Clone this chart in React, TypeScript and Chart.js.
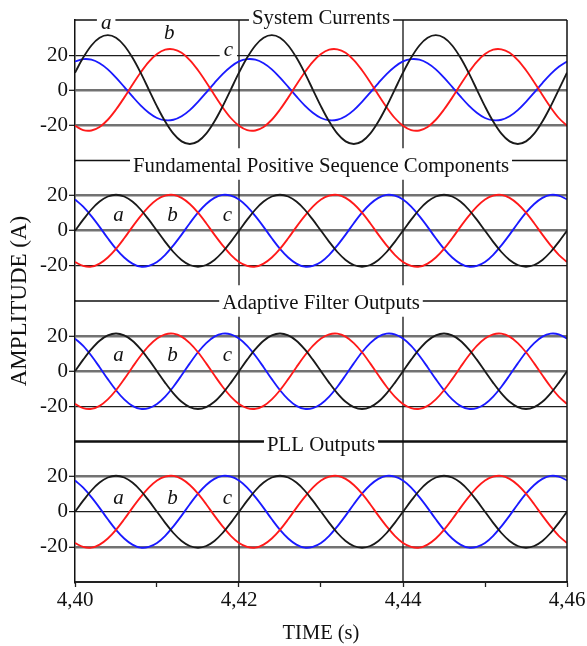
import React, { useEffect, useRef } from 'react';
import { Chart, registerables } from 'chart.js';

Chart.register(...registerables);

const FONT = '"Liberation Serif", "Times New Roman", serif';

// ---- sampling instants (s) ----
const timeS = [
  4.400, 4.401, 4.402, 4.403, 4.404, 4.405, 4.406, 4.407, 4.408, 4.409,
  4.410, 4.411, 4.412, 4.413, 4.414, 4.415, 4.416, 4.417, 4.418, 4.419,
  4.420, 4.421, 4.422, 4.423, 4.424, 4.425, 4.426, 4.427, 4.428, 4.429,
  4.430, 4.431, 4.432, 4.433, 4.434, 4.435, 4.436, 4.437, 4.438, 4.439,
  4.440, 4.441, 4.442, 4.443, 4.444, 4.445, 4.446, 4.447, 4.448, 4.449,
  4.450, 4.451, 4.452, 4.453, 4.454, 4.455, 4.456, 4.457, 4.458, 4.459,
  4.460,
];

// ---- System Currents (A) ----
const sysA = [
  10.0, 18.6, 25.5, 29.9, 31.4, 29.9, 25.5, 18.6, 10.0, 0.4,
  -9.2, -17.8, -24.7, -29.1, -30.6, -29.1, -24.7, -17.8, -9.2, 0.4,
  10.0, 18.6, 25.5, 29.9, 31.4, 29.9, 25.5, 18.6, 10.0, 0.4,
  -9.2, -17.8, -24.7, -29.1, -30.6, -29.1, -24.7, -17.8, -9.2, 0.4,
  10.0, 18.6, 25.5, 29.9, 31.4, 29.9, 25.5, 18.6, 10.0, 0.4,
  -9.2, -17.8, -24.7, -29.1, -30.6, -29.1, -24.7, -17.8, -9.2, 0.4,
  10.0,
];
const sysB = [
  -20.2, -22.7, -22.9, -20.9, -16.8, -11.0, -4.2, 3.1, 10.1, 16.2,
  20.6, 23.1, 23.3, 21.3, 17.2, 11.4, 4.6, -2.7, -9.7, -15.8,
  -20.2, -22.7, -22.9, -20.9, -16.8, -11.0, -4.2, 3.1, 10.1, 16.2,
  20.6, 23.1, 23.3, 21.3, 17.2, 11.4, 4.6, -2.7, -9.7, -15.8,
  -20.2, -22.7, -22.9, -20.9, -16.8, -11.0, -4.2, 3.1, 10.1, 16.2,
  20.6, 23.1, 23.3, 21.3, 17.2, 11.4, 4.6, -2.7, -9.7, -15.8,
  -20.2,
];
const sysC = [
  16.4, 17.7, 17.4, 15.4, 11.9, 7.2, 1.9, -3.5, -8.6, -12.8,
  -15.8, -17.1, -16.8, -14.8, -11.3, -6.6, -1.3, 4.1, 9.2, 13.4,
  16.4, 17.7, 17.4, 15.4, 11.9, 7.2, 1.9, -3.5, -8.6, -12.8,
  -15.8, -17.1, -16.8, -14.8, -11.3, -6.6, -1.3, 4.1, 9.2, 13.4,
  16.4, 17.7, 17.4, 15.4, 11.9, 7.2, 1.9, -3.5, -8.6, -12.8,
  -15.8, -17.1, -16.8, -14.8, -11.3, -6.6, -1.3, 4.1, 9.2, 13.4,
  16.4,
];

// ---- Fundamental Positive Sequence Components (A) ----
const fundA = [
  0.0, 6.3, 12.1, 16.6, 19.5, 20.5, 19.5, 16.6, 12.1, 6.3,
  0.0, -6.3, -12.1, -16.6, -19.5, -20.5, -19.5, -16.6, -12.1, -6.3,
  0.0, 6.3, 12.1, 16.6, 19.5, 20.5, 19.5, 16.6, 12.1, 6.3,
  0.0, -6.3, -12.1, -16.6, -19.5, -20.5, -19.5, -16.6, -12.1, -6.3,
  0.0, 6.3, 12.1, 16.6, 19.5, 20.5, 19.5, 16.6, 12.1, 6.3,
  0.0, -6.3, -12.1, -16.6, -19.5, -20.5, -19.5, -16.6, -12.1, -6.3,
  0.0,
];
const fundB = [
  -17.8, -20.0, -20.4, -18.7, -15.2, -10.3, -4.3, 2.2, 8.3, 13.7,
  17.8, 20.0, 20.4, 18.7, 15.2, 10.3, 4.3, -2.2, -8.3, -13.7,
  -17.8, -20.0, -20.4, -18.7, -15.2, -10.3, -4.3, 2.2, 8.3, 13.7,
  17.8, 20.0, 20.4, 18.7, 15.2, 10.3, 4.3, -2.2, -8.3, -13.7,
  -17.8, -20.0, -20.4, -18.7, -15.2, -10.3, -4.3, 2.2, 8.3, 13.7,
  17.8, 20.0, 20.4, 18.7, 15.2, 10.3, 4.3, -2.2, -8.3, -13.7,
  -17.8,
];
const fundC = [
  17.8, 13.7, 8.3, 2.2, -4.3, -10.3, -15.2, -18.7, -20.4, -20.0,
  -17.8, -13.7, -8.3, -2.2, 4.3, 10.3, 15.2, 18.7, 20.4, 20.0,
  17.8, 13.7, 8.3, 2.2, -4.3, -10.3, -15.2, -18.7, -20.4, -20.0,
  -17.8, -13.7, -8.3, -2.2, 4.3, 10.3, 15.2, 18.7, 20.4, 20.0,
  17.8, 13.7, 8.3, 2.2, -4.3, -10.3, -15.2, -18.7, -20.4, -20.0,
  -17.8, -13.7, -8.3, -2.2, 4.3, 10.3, 15.2, 18.7, 20.4, 20.0,
  17.8,
];

// ---- Adaptive Filter Outputs (A) ----
const adfA = [
  0.0, 6.6, 12.6, 17.4, 20.4, 21.5, 20.4, 17.4, 12.6, 6.6,
  0.0, -6.6, -12.6, -17.4, -20.4, -21.5, -20.4, -17.4, -12.6, -6.6,
  0.0, 6.6, 12.6, 17.4, 20.4, 21.5, 20.4, 17.4, 12.6, 6.6,
  0.0, -6.6, -12.6, -17.4, -20.4, -21.5, -20.4, -17.4, -12.6, -6.6,
  0.0, 6.6, 12.6, 17.4, 20.4, 21.5, 20.4, 17.4, 12.6, 6.6,
  0.0, -6.6, -12.6, -17.4, -20.4, -21.5, -20.4, -17.4, -12.6, -6.6,
  0.0,
];
const adfB = [
  -18.6, -21.0, -21.4, -19.7, -16.0, -10.8, -4.5, 2.3, 8.8, 14.4,
  18.6, 21.0, 21.4, 19.7, 16.0, 10.8, 4.5, -2.3, -8.8, -14.4,
  -18.6, -21.0, -21.4, -19.7, -16.0, -10.8, -4.5, 2.3, 8.8, 14.4,
  18.6, 21.0, 21.4, 19.7, 16.0, 10.8, 4.5, -2.3, -8.8, -14.4,
  -18.6, -21.0, -21.4, -19.7, -16.0, -10.8, -4.5, 2.3, 8.8, 14.4,
  18.6, 21.0, 21.4, 19.7, 16.0, 10.8, 4.5, -2.3, -8.8, -14.4,
  -18.6,
];
const adfC = [
  18.6, 14.4, 8.8, 2.3, -4.5, -10.8, -16.0, -19.7, -21.4, -21.0,
  -18.6, -14.4, -8.8, -2.3, 4.5, 10.8, 16.0, 19.7, 21.4, 21.0,
  18.6, 14.4, 8.8, 2.3, -4.5, -10.8, -16.0, -19.7, -21.4, -21.0,
  -18.6, -14.4, -8.8, -2.3, 4.5, 10.8, 16.0, 19.7, 21.4, 21.0,
  18.6, 14.4, 8.8, 2.3, -4.5, -10.8, -16.0, -19.7, -21.4, -21.0,
  -18.6, -14.4, -8.8, -2.3, 4.5, 10.8, 16.0, 19.7, 21.4, 21.0,
  18.6,
];

// ---- PLL Outputs (A) ----
const pllA = [
  0.0, 6.3, 12.1, 16.6, 19.5, 20.5, 19.5, 16.6, 12.1, 6.3,
  0.0, -6.3, -12.1, -16.6, -19.5, -20.5, -19.5, -16.6, -12.1, -6.3,
  0.0, 6.3, 12.1, 16.6, 19.5, 20.5, 19.5, 16.6, 12.1, 6.3,
  0.0, -6.3, -12.1, -16.6, -19.5, -20.5, -19.5, -16.6, -12.1, -6.3,
  0.0, 6.3, 12.1, 16.6, 19.5, 20.5, 19.5, 16.6, 12.1, 6.3,
  0.0, -6.3, -12.1, -16.6, -19.5, -20.5, -19.5, -16.6, -12.1, -6.3,
  0.0,
];
const pllB = [
  -17.8, -20.0, -20.4, -18.7, -15.2, -10.3, -4.3, 2.2, 8.3, 13.7,
  17.8, 20.0, 20.4, 18.7, 15.2, 10.3, 4.3, -2.2, -8.3, -13.7,
  -17.8, -20.0, -20.4, -18.7, -15.2, -10.3, -4.3, 2.2, 8.3, 13.7,
  17.8, 20.0, 20.4, 18.7, 15.2, 10.3, 4.3, -2.2, -8.3, -13.7,
  -17.8, -20.0, -20.4, -18.7, -15.2, -10.3, -4.3, 2.2, 8.3, 13.7,
  17.8, 20.0, 20.4, 18.7, 15.2, 10.3, 4.3, -2.2, -8.3, -13.7,
  -17.8,
];
const pllC = [
  17.8, 13.7, 8.3, 2.2, -4.3, -10.3, -15.2, -18.7, -20.4, -20.0,
  -17.8, -13.7, -8.3, -2.2, 4.3, 10.3, 15.2, 18.7, 20.4, 20.0,
  17.8, 13.7, 8.3, 2.2, -4.3, -10.3, -15.2, -18.7, -20.4, -20.0,
  -17.8, -13.7, -8.3, -2.2, 4.3, 10.3, 15.2, 18.7, 20.4, 20.0,
  17.8, 13.7, 8.3, 2.2, -4.3, -10.3, -15.2, -18.7, -20.4, -20.0,
  -17.8, -13.7, -8.3, -2.2, 4.3, 10.3, 15.2, 18.7, 20.4, 20.0,
  17.8,
];

// ---- texts and ticks ----
const panelTitles = [
  'System Currents',
  'Fundamental Positive Sequence Components',
  'Adaptive Filter Outputs',
  'PLL Outputs',
];
const phaseNames = ['a', 'b', 'c'];
const yTickValues = [-20, 0, 20];
const xTickValues = [4.40, 4.41, 4.42, 4.43, 4.44, 4.45, 4.46];
const xTickLabels = ['4,40', '', '4,42', '', '4,44', '', '4,46'];
const xTitle = 'TIME (s)';
const yTitle = 'AMPLITUDE (A)';

// ---- layout / style configuration ----
const panelIds = ['yP1', 'yP2', 'yP3', 'yP4'];
const panelSeries = [
  [sysA, sysB, sysC],
  [fundA, fundB, fundC],
  [adfA, adfB, adfC],
  [pllA, pllB, pllC],
];
const phaseColors = ['#1a1a1a', '#ff1a1a', '#1a1aff'];
const titleBaselineOffset = [4, 11.3, 8.3, 9.7];
const topLineWidth = [1.4, 1.4, 1.4, 2.6];
const vLineTimes = [4.42, 4.44];
const vLineTop = [40, 29, 31, 40];
const vLineBottom = [-33, -31, -40, -40];
const phaseLabelT = [
  [4.4038, 4.4115, 4.4187],
  [4.4053, 4.4119, 4.4186],
  [4.4053, 4.4119, 4.4186],
  [4.4053, 4.4119, 4.4186],
];
const phaseLabelV = [
  [34.8, 29.1, 19.7],
  [5.3, 5.3, 5.3],
  [6.1, 6.1, 6.1],
  [4.2, 4.2, 4.2],
];
const phaseLabelBg = [true, false, false, false];
// grid line style per panel for values -20, 0, 20
const gridStyle = [
  ['thick', 'thick', 'thin'],
  ['thin', 'thick', 'thick'],
  ['thin', 'thick', 'thick'],
  ['thick', 'thin', 'thick'],
];

const styleFor = (p: number, v: number) => gridStyle[p][yTickValues.indexOf(v)] || 'thin';

const decorPlugin = {
  id: 'panelDecor',
  beforeDatasetsDraw(chart: any) {
    const { ctx, scales } = chart;
    const xs = scales.x;
    ctx.save();
    ctx.strokeStyle = '#111';
    ctx.lineWidth = 1.3;
    panelIds.forEach((id, p) => {
      const ys = scales[id];
      vLineTimes.forEach((t) => {
        const px = xs.getPixelForValue(t);
        ctx.beginPath();
        ctx.moveTo(px, ys.getPixelForValue(vLineTop[p]));
        ctx.lineTo(px, ys.getPixelForValue(vLineBottom[p]));
        ctx.stroke();
      });
    });
    ctx.restore();
  },
  afterDatasetsDraw(chart: any) {
    const { ctx, scales, chartArea } = chart;
    const xs = scales.x;
    const cx = (chartArea.left + chartArea.right) / 2;
    ctx.save();
    ctx.strokeStyle = '#111';
    ctx.lineWidth = 1.5;
    ctx.beginPath();
    ctx.moveTo(chartArea.right, chartArea.top);
    ctx.lineTo(chartArea.right, chartArea.bottom);
    ctx.stroke();

    panelIds.forEach((id, p) => {
      const ys = scales[id];
      ctx.font = `20.8px ${FONT}`;
      const w = ctx.measureText(panelTitles[p]).width;
      const y0 = ys.top;
      ctx.strokeStyle = '#111';
      ctx.lineWidth = topLineWidth[p];
      ctx.beginPath();
      ctx.moveTo(chartArea.left, y0);
      ctx.lineTo(cx - w / 2 - 3, y0);
      ctx.moveTo(cx + w / 2 + 3, y0);
      ctx.lineTo(chartArea.right, y0);
      ctx.stroke();
      ctx.fillStyle = '#111';
      ctx.textAlign = 'center';
      ctx.textBaseline = 'alphabetic';
      ctx.fillText(panelTitles[p], cx, y0 + titleBaselineOffset[p]);

      ctx.font = `italic 21px ${FONT}`;
      phaseNames.forEach((name, i) => {
        const lx = xs.getPixelForValue(phaseLabelT[p][i]);
        const ly = ys.getPixelForValue(phaseLabelV[p][i]);
        if (phaseLabelBg[p]) {
          const lw = ctx.measureText(name).width;
          ctx.fillStyle = '#fff';
          ctx.fillRect(lx - lw / 2 - 4, ly - 13, lw + 8, 15);
        }
        ctx.fillStyle = '#111';
        ctx.fillText(name, lx, ly);
      });
    });

    ctx.translate(20, (chartArea.top + chartArea.bottom) / 2);
    ctx.rotate(-Math.PI / 2);
    ctx.font = `23px ${FONT}`;
    ctx.textAlign = 'center';
    ctx.textBaseline = 'middle';
    ctx.fillStyle = '#111';
    ctx.fillText(yTitle, 0, 0);
    ctx.restore();
  },
};

const makeYScale = (p: number) => ({
  type: 'linear',
  position: 'left',
  stack: 'panels',
  stackWeight: 1,
  weight: 4 - p,
  min: -40,
  max: 40,
  afterBuildTicks: (s: any) => {
    s.ticks = yTickValues.map((v) => ({ value: v }));
  },
  afterFit: (s: any) => {
    s.width = 75;
  },
  border: { display: true, color: '#111', width: 1.5 },
  grid: {
    color: (c: any) => (styleFor(p, c.tick ? c.tick.value : 0) === 'thick' ? '#727272' : '#1e1e1e'),
    lineWidth: (c: any) => (styleFor(p, c.tick ? c.tick.value : 0) === 'thick' ? 2.6 : 1.2),
    drawTicks: true,
    tickLength: 6,
    tickColor: '#111',
    tickWidth: 1.2,
  },
  ticks: {
    color: '#111',
    font: { family: FONT, size: 21 },
    padding: 1,
    callback: (v: any) => String(v),
  },
});

export default function App() {
  const ref = useRef<HTMLCanvasElement>(null);
  useEffect(() => {
    if (!ref.current) return;
    const datasets = panelSeries.flatMap((series, p) =>
      series.map((vals, i) => ({
        label: `${panelTitles[p]} ${phaseNames[i]}`,
        data: timeS.map((t, k) => ({ x: t, y: vals[k] })),
        yAxisID: panelIds[p],
        borderColor: phaseColors[i],
        borderWidth: 1.85,
        pointRadius: 0,
        tension: 0.35,
        fill: false,
      }))
    );
    const chart = new Chart(ref.current, {
      type: 'line',
      data: { datasets } as any,
      options: {
        responsive: false,
        animation: false,
        devicePixelRatio: 1,
        events: [],
        layout: { padding: { top: 20, right: 20, left: 0, bottom: 0 } },
        plugins: { legend: { display: false }, tooltip: { enabled: false } },
        scales: {
          x: {
            type: 'linear',
            position: 'bottom',
            min: 4.40,
            max: 4.46,
            afterBuildTicks: (s: any) => {
              s.ticks = xTickValues.map((v) => ({ value: v }));
            },
            afterFit: (s: any) => {
              s.height = 64;
            },
            border: { display: true, color: '#222', width: 2 },
            grid: { drawOnChartArea: false, drawTicks: true, tickLength: 5, tickColor: '#222', tickWidth: 1.3 },
            ticks: {
              color: '#111',
              font: { family: FONT, size: 21 },
              padding: 1,
              maxRotation: 0,
              autoSkip: false,
              callback: (_v: any, i: number) => xTickLabels[i],
            },
            title: {
              display: true,
              text: xTitle,
              color: '#111',
              font: { family: FONT, size: 20.5 },
              padding: { top: 4, bottom: 0 },
            },
          },
          yP4: makeYScale(3),
          yP3: makeYScale(2),
          yP2: makeYScale(1),
          yP1: makeYScale(0),
        } as any,
      },
      plugins: [decorPlugin],
    });
    return () => chart.destroy();
  }, []);
  return (
    <div style={{ position: 'absolute', left: 0, top: 0, width: 587, height: 646, background: '#fff' }}>
      <canvas ref={ref} width={587} height={646} style={{ display: 'block' }} />
    </div>
  );
}
